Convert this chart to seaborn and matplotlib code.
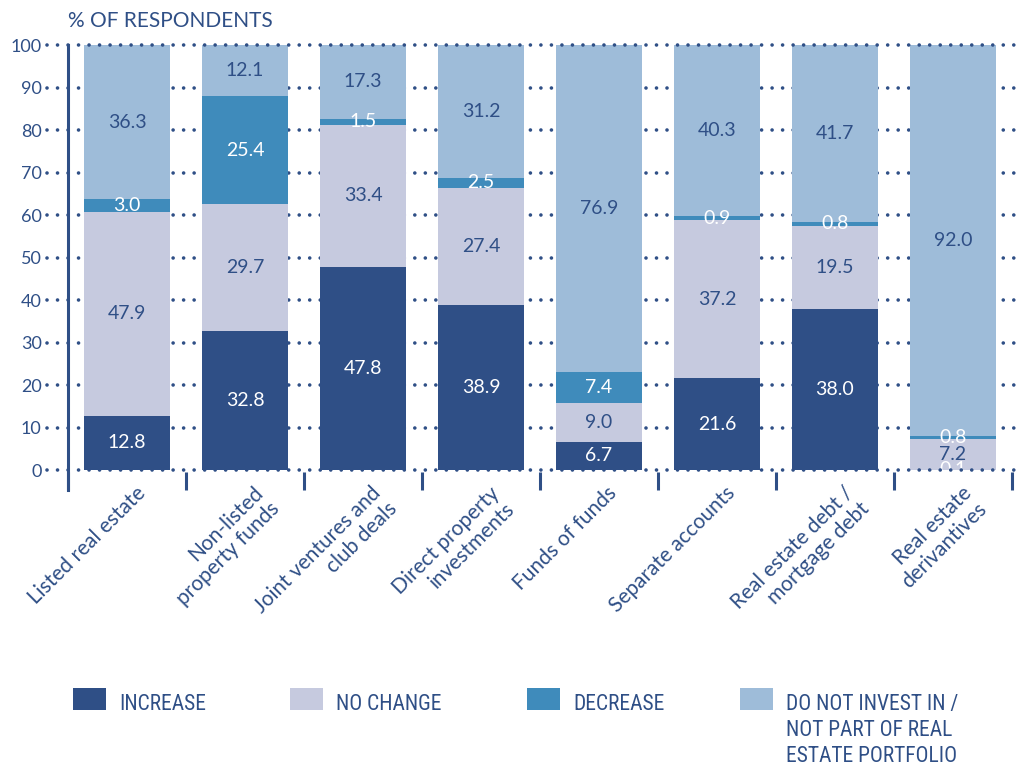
import numpy as np
import pandas as pd
import matplotlib
matplotlib.use("Agg")
import matplotlib.pyplot as plt
import matplotlib.transforms as mtransforms
from matplotlib import font_manager as fm
from matplotlib.offsetbox import HPacker
from matplotlib.patches import Patch
import seaborn as sns

# ---------------- data ----------------
categories = [
    "Listed real estate",
    "Non-listed\nproperty funds",
    "Joint ventures and\nclub deals",
    "Direct property\ninvestments",
    "Funds of funds",
    "Separate accounts",
    "Real estate debt /\nmortgage debt",
    "Real estate\nderivantives",
]
increase = [12.8, 32.8, 47.8, 38.9, 6.7, 21.6, 38.0, 0.1]
no_change = [47.9, 29.7, 33.4, 27.4, 9.0, 37.2, 19.5, 7.2]
decrease = [3.0, 25.4, 1.5, 2.5, 7.4, 0.9, 0.8, 0.8]
not_invest = [36.3, 12.1, 17.3, 31.2, 76.9, 40.3, 41.7, 92.0]
series_names = ["INCREASE", "NO CHANGE", "DECREASE",
                "DO NOT INVEST IN /\nNOT PART OF REAL\nESTATE PORTFOLIO"]
y_ticks = list(range(0, 101, 10))
y_title = "% OF RESPONDENTS"

# ---------------- style ----------------
NAVY = "#2F4F86"
colors = ["#2F4F86", "#C6CADF", "#3F8BBB", "#9EBCD9"]
label_colors = ["white", NAVY, "white", NAVY]

sns.set_theme(style="white")
plt.rcParams["font.family"] = ["Lato", "DejaVu Sans"]


def condensed_font():
    names = {f.name for f in fm.fontManager.ttflist}
    for n in ["Liberation Sans Narrow", "Roboto Condensed", "Open Sans Condensed",
              "DejaVu Sans Condensed", "Noto Sans Condensed"]:
        if n in names:
            return {"family": [n, "DejaVu Sans"]}, 15.5, 1.32
    for f in fm.fontManager.ttflist:
        if f.name == "DejaVu Sans" and str(f.stretch) in ("condensed", "semi-condensed", "600", "700"):
            return {"family": ["DejaVu Sans"], "stretch": "condensed"}, 13.5, 1.4
    return {"family": ["Roboto", "DejaVu Sans"]}, 14, 1.38


leg_prop, leg_size, leg_ls = condensed_font()

fig = plt.figure(figsize=(10.24, 7.82), dpi=100)
W, H = 1024, 782
ax = fig.add_axes([68 / W, 1 - 490 / H, 944 / W, 445 / H])

df = pd.DataFrame({"category": categories,
                   series_names[0]: increase,
                   series_names[1]: no_change,
                   series_names[2]: decrease,
                   series_names[3]: not_invest})

bottom = np.zeros(len(categories))
for name, vals, col, tcol in zip(series_names, [increase, no_change, decrease, not_invest],
                                 colors, label_colors):
    sns.barplot(data=df, x="category", y=name, bottom=bottom, color=col,
                width=0.73, saturation=1, errorbar=None, linewidth=0,
                ax=ax, zorder=2)
    for i, (v, b) in enumerate(zip(vals, bottom)):
        ax.text(i, b + v / 2, f"{v:.1f}", ha="center", va="center",
                color=tcol, fontsize=14, zorder=5)
    bottom = bottom + np.array(vals)

ax.set_xlabel("")
ax.set_ylabel("")
ax.set_xlim(-0.5, len(categories) - 0.5)
ax.set_ylim(-4.7, 100)

# spines
for s in ["top", "right", "bottom"]:
    ax.spines[s].set_visible(False)
ax.spines["left"].set_color(NAVY)
ax.spines["left"].set_linewidth(2.2)

# y ticks
ax.set_yticks(y_ticks)
ax.set_yticklabels([str(t) for t in y_ticks])
ax.tick_params(axis="y", length=0, pad=19, labelsize=13, labelcolor=NAVY)

# dotted gridlines
for t in y_ticks:
    z = 6 if t in (0, 100) else 1
    ax.axhline(t, xmin=-0.022, xmax=1.013, clip_on=False, color=NAVY,
               linewidth=2.6, linestyle=(0, (0.01, 2.9)),
               dash_capstyle="round", zorder=z)

# x ticks: labels at centers, separators as minor ticks at boundaries
ax.set_xticks(range(len(categories)))
ax.set_xticks(np.arange(-0.5, len(categories), 1.0), minor=True)
ax.tick_params(axis="x", which="major", length=0, pad=0)
ax.tick_params(axis="x", which="minor", direction="in", length=13,
               width=2.2, color=NAVY, bottom=True)
offset = mtransforms.ScaledTranslation(8 / 100, 7 / 100, fig.dpi_scale_trans)
for lab in ax.get_xticklabels():
    lab.set_rotation(45)
    lab.set_ha("right")
    lab.set_va("top")
    lab.set_rotation_mode("anchor")
    lab.set_multialignment("right")
    lab.set_fontsize(15)
    lab.set_linespacing(1.15)
    lab.set_color(NAVY)
    lab.set_transform(lab.get_transform() + offset)

# title
fig.text(68 / W, 1 - 21 / H, y_title, ha="left", va="center",
         fontsize=15, color=NAVY)

# legend (one block per entry)
leg_x = [73, 290, 527, 740]
fs_px = leg_size * 100 / 72
for name, col, lx in zip(series_names, colors, leg_x):
    leg = fig.legend(handles=[Patch(facecolor=col, edgecolor="none")],
                     labels=[name], loc="upper left",
                     bbox_to_anchor=(lx / W, 1 - 688 / H),
                     frameon=False, borderpad=0, borderaxespad=0,
                     handlelength=33 / fs_px, handleheight=25 / fs_px,
                     handletextpad=13 / fs_px,
                     prop=dict(leg_prop, size=leg_size))
    for hp in leg.findobj(HPacker):
        hp.align = "top"
    for txt in leg.get_texts():
        txt.set_color(NAVY)
        txt.set_linespacing(leg_ls)
        txt.set_transform(txt.get_transform() +
                          mtransforms.ScaledTranslation(0, -6 / 100, fig.dpi_scale_trans))

fig.savefig("out.png", dpi=100)
